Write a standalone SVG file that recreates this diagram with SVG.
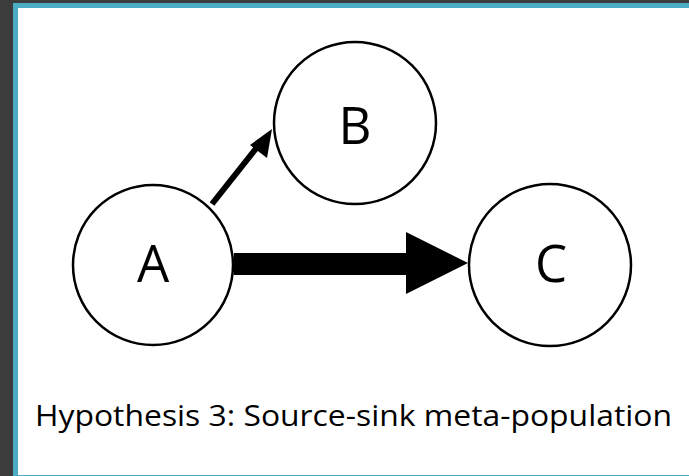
<svg xmlns="http://www.w3.org/2000/svg" width="689" height="476" viewBox="0 0 689 476">
  <style>
    .node circle { fill: #ffffff; stroke: #000000; stroke-width: 2.5; }
    .node text { font-family: "Open Sans", "Liberation Sans", sans-serif; font-size: 51px; fill: #000000; text-anchor: middle; }
    .caption { font-family: "Open Sans", "Liberation Sans", sans-serif; font-size: 30px; fill: #000000; }
  </style>
  <!-- frame -->
  <rect x="0" y="0" width="689" height="476" fill="#3c3c3c"/>
  <rect x="13" y="3" width="676" height="473" fill="#4bacc6"/>
  <rect x="18" y="8" width="671" height="467" fill="#ffffff"/>

  <g id="connectors">
    <!-- A to B: thin arrow -->
    <line x1="212" y1="204" x2="258" y2="146" stroke="#000" stroke-width="6"/>
    <polygon points="272,129 267,158 250,145" fill="#000"/>
    <!-- A to C: thick arrow -->
    <polygon points="234,253 406,253 406,232 468,263 406,294 406,275 234,275" fill="#000"/>
  </g>

  <g id="node-A" class="node">
    <circle cx="153" cy="265" r="80"/>
    <text x="153" y="282">A</text>
  </g>
  <g id="node-B" class="node">
    <circle cx="355" cy="123" r="81"/>
    <text x="355" y="144">B</text>
  </g>
  <g id="node-C" class="node">
    <circle cx="550" cy="265" r="81"/>
    <text x="551" y="282">C</text>
  </g>

  <text class="caption" x="35" y="426" textLength="637" lengthAdjust="spacingAndGlyphs">Hypothesis 3: Source-sink meta-population</text>
</svg>
